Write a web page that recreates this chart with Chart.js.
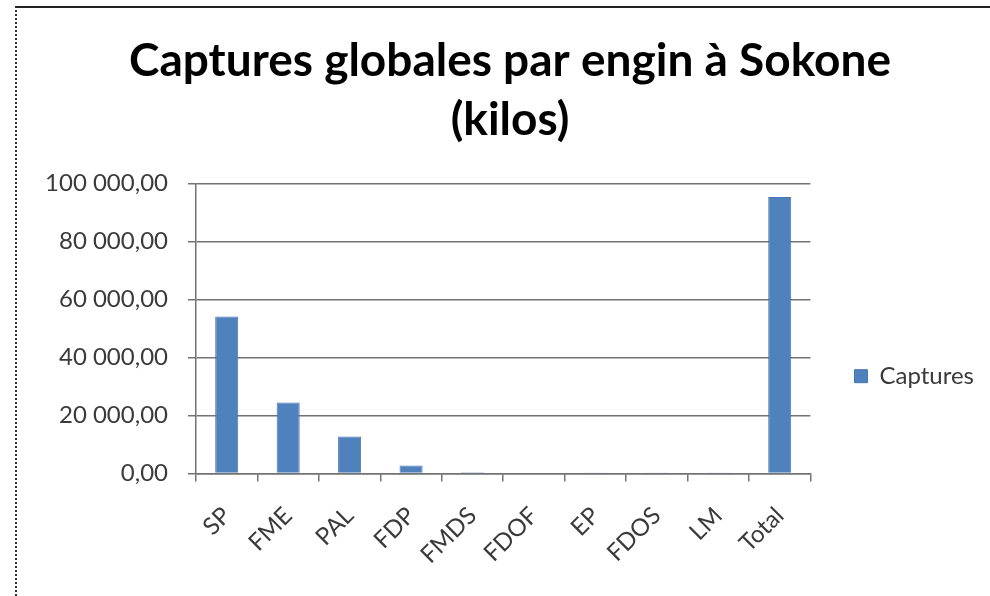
<!DOCTYPE html>
<html lang="fr">
<head>
    <meta charset="UTF-8">
    <title>Captures globales par engin à Sokone</title>
    <script src="https://cdn.jsdelivr.net/npm/chart.js"></script>
    <style>
        body { margin: 0; background: #fff; }
        #wrap { position: relative; width: 990px; height: 596px; }
        #frame {
            position: absolute; left: 15px; top: 6px; right: -4px; bottom: -4px;
            border-top: 2px solid #222; border-left: 2px dotted #333;
            pointer-events: none;
        }
        canvas { position: absolute; left: 0; top: 0; }
    </style>
</head>
<body>
    <div id="wrap">
        <canvas id="chart" width="990" height="596"></canvas>
        <div id="frame"></div>
    </div>
    <script>
        const categories = ['SP', 'FME', 'PAL', 'FDP', 'FMDS', 'FDOF', 'EP', 'FDOS', 'LM', 'Total'];
        const captures = [54200, 24500, 12800, 2800, 400, 300, 200, 150, 50, 95400];
        const yMin = 0;
        const yMax = 100000;
        const yStep = 20000;

        // format like "100 000,00"
        const frNumber = v => {
            const parts = Number(v).toFixed(2).split('.');
            return parts[0].replace(/\B(?=(\d{3})+(?!\d))/g, ' ') + ',' + parts[1];
        };

        const gridColor = '#737373';
        const textColor = '#3a3a3a';
        const font = 'Lato, "Open Sans", sans-serif';

        new Chart(document.getElementById('chart').getContext('2d'), {
            type: 'bar',
            data: {
                labels: categories,
                datasets: [{
                    label: 'Captures',
                    data: captures,
                    backgroundColor: '#4F81BD',
                    borderColor: '#4675B0',
                    borderWidth: 1,
                    barPercentage: 0.375,
                    categoryPercentage: 1.0
                }]
            },
            options: {
                responsive: false,
                animation: false,
                layout: { padding: { left: 36, right: 6, top: 0, bottom: 0 } },
                plugins: {
                    title: {
                        display: true,
                        text: ['Captures globales par engin à Sokone', '(kilos)'],
                        color: '#000',
                        font: { family: font, size: 46, weight: 'bold', lineHeight: 1.28 },
                        padding: { top: 32, bottom: 34 }
                    },
                    legend: {
                        position: 'right',
                        maxWidth: 180,
                        // empty legend title only pushes the entry down
                        title: { display: true, text: ' ', padding: { top: 142, bottom: 0 } },
                        labels: {
                            color: textColor,
                            font: { family: font, size: 24 },
                            boxWidth: 13,
                            boxHeight: 13,
                            padding: 44
                        }
                    },
                    tooltip: { enabled: false }
                },
                scales: {
                    x: {
                        grid: {
                            display: true,
                            offset: true,
                            drawOnChartArea: false,
                            drawTicks: true,
                            tickLength: 8,
                            color: gridColor,
                            lineWidth: 1.5
                        },
                        border: { color: gridColor, width: 1.5 },
                        ticks: {
                            color: textColor,
                            font: { family: font, size: 24 },
                            minRotation: 45,
                            maxRotation: 45,
                            padding: 20,
                            autoSkip: false
                        },
                        afterFit: scale => { scale.height = 122.5; }
                    },
                    y: {
                        min: yMin,
                        max: yMax,
                        grid: {
                            color: gridColor,
                            lineWidth: 1.5,
                            tickLength: 8
                        },
                        border: { color: gridColor, width: 1.5 },
                        ticks: {
                            stepSize: yStep,
                            color: textColor,
                            font: { family: font, size: 24 },
                            padding: 20,
                            callback: v => frNumber(v)
                        },
                        afterFit: scale => { scale.width = 160; }
                    }
                }
            }
        });
    </script>
</body>
</html>
